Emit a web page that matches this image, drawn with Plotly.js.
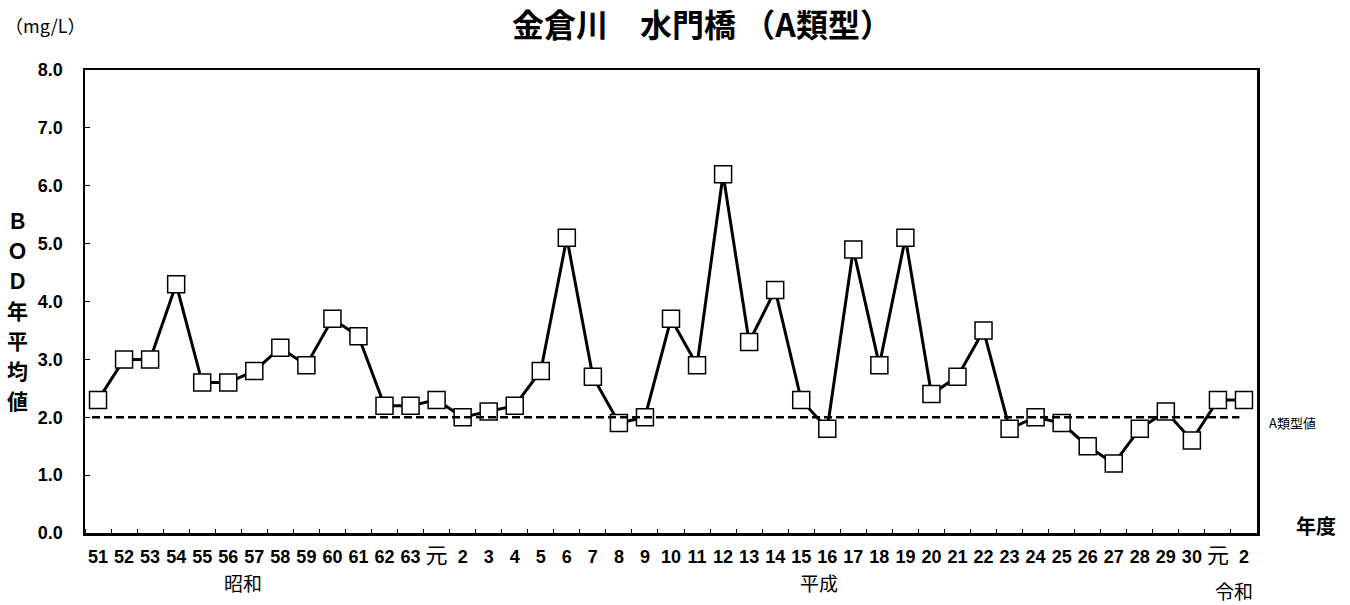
<!DOCTYPE html>
<html>
<head>
<meta charset="utf-8">
<script src="https://cdn.plot.ly/plotly-3.0.1.min.js"></script>
<style>html,body{margin:0;padding:0;background:#fff;}#chart{width:1350px;height:605px;}</style>
</head>
<body>
<div id="chart"></div>
<script>
// Fiscal year labels (Showa 51–63, Heisei 元–30, Reiwa 元–2)
var yearLabels = ["51","52","53","54","55","56","57","58","59","60","61","62","63",
  "元","2","3","4","5","6","7","8","9","10","11","12","13","14","15","16","17","18","19","20","21","22","23","24","25","26","27","28","29","30",
  "元","2"];
// BOD annual mean (mg/L)
var bodValues = [2.3,3.0,3.0,4.3,2.6,2.6,2.8,3.2,2.9,3.7,3.4,2.2,2.2,
  2.3,2.0,2.1,2.2,2.8,5.1,2.7,1.9,2.0,3.7,2.9,6.2,3.3,4.2,2.3,1.8,4.9,2.9,5.1,2.4,2.7,3.5,1.8,2.0,1.9,1.5,1.2,1.8,2.1,1.6,
  2.3,2.3];
var standardValue = 2.0; // A類型 standard
var eraLabels = ["昭和","平成","令和"];
var yTitleChars = ["Ｂ","Ｏ","Ｄ","年","平","均","値"];
var yTicks = [0,1,2,3,4,5,6,7,8];

var idx = yearLabels.map(function(_, i){ return i; });
var tickText = yearLabels.map(function(s){
  return s === "元" ? '<span style="font-family:Noto Sans CJK JP;font-size:22px;font-weight:normal">元</span>' : s;
});

var trace = {
  x: idx, y: bodValues, type: 'scatter', mode: 'lines+markers',
  line: {color: '#000', width: 3},
  marker: {symbol: 'square', size: 17, color: '#fff', line: {color: '#000', width: 1.5}},
  hoverinfo: 'skip', showlegend: false
};

var PL = 85, PB = 533, PW = 1172, PH = 463;
function px(x){ return (x - PL) / PW; }
function py(y){ return (PB - y) / PH; }

var annotations = [
  {text: '（mg/L）', xref: 'paper', yref: 'paper', x: px(45), y: py(25), xanchor: 'center', yanchor: 'middle', showarrow: false,
    font: {family: 'Noto Sans CJK JP', size: 18}},
  {text: '年度', xref: 'paper', yref: 'paper', x: px(1316), y: py(525), xanchor: 'center', yanchor: 'middle', showarrow: false,
    font: {family: 'Noto Sans CJK JP', size: 20, weight: 'bold'}},
  {text: 'A類型値', xref: 'paper', yref: 'y', x: px(1267), y: standardValue, yshift: -5, xanchor: 'left', yanchor: 'middle', showarrow: false,
    font: {family: 'Noto Sans CJK JP', size: 13}},
  {text: eraLabels[0], xref: 'x', yref: 'paper', x: 5.57, y: py(582), xanchor: 'center', yanchor: 'middle', showarrow: false,
    font: {family: 'Noto Sans CJK JP', size: 19}},
  {text: eraLabels[1], xref: 'x', yref: 'paper', x: 27.7, y: py(582), xanchor: 'center', yanchor: 'middle', showarrow: false,
    font: {family: 'Noto Sans CJK JP', size: 19}},
  {text: eraLabels[2], xref: 'x', yref: 'paper', x: 43.6, y: py(590), xanchor: 'center', yanchor: 'middle', showarrow: false,
    font: {family: 'Noto Sans CJK JP', size: 19}}
];
var yTitlePos = [220, 250, 280, 310, 340, 370, 400];
yTitleChars.forEach(function(c, i){
  annotations.push({text: c, xref: 'paper', yref: 'paper', x: px(17), y: py(yTitlePos[i]), xanchor: 'center', yanchor: 'middle',
    showarrow: false, font: {family: 'Noto Sans CJK JP', size: 21, weight: 'bold'}});
});

var layout = {
  width: 1350, height: 605,
  margin: {l: PL, r: 1350 - PL - PW, t: 70, b: 605 - PB},
  paper_bgcolor: '#fff', plot_bgcolor: '#fff',
  font: {family: 'Liberation Sans, Arial, sans-serif', color: '#000'},
  title: {text: '金倉川　水門橋 （A類型）', x: 0.52, xref: 'container', xanchor: 'center', y: 0.957, yref: 'container', yanchor: 'middle',
    font: {family: 'Noto Sans CJK JP', size: 32, weight: 'bold', color: '#000'}},
  xaxis: {
    range: [-0.5, yearLabels.length - 0.5], tickmode: 'array', tickvals: idx, ticktext: tickText,
    ticks: '', showgrid: false, zeroline: false,
    showline: true, linecolor: '#000', linewidth: 2.5, mirror: true,
    tickfont: {family: 'Liberation Sans Narrow, Arial Narrow, Liberation Sans', size: 18, weight: 'bold', color: '#000'},
    tickangle: 0, ticklabelstandoff: 6,
    minor: {tick0: 0.5, dtick: 1, ticks: 'inside', ticklen: 4, tickwidth: 1, tickcolor: '#000', showgrid: false}
  },
  yaxis: {
    range: [0, 8], tickmode: 'array', tickvals: yTicks, tickformat: '.1f',
    ticks: 'inside', ticklen: 5, tickwidth: 1, tickcolor: '#000',
    showgrid: false, zeroline: false,
    showline: true, linecolor: '#000', linewidth: 2.5, mirror: true,
    tickfont: {family: 'Liberation Sans, Arial', size: 18, weight: 'bold', color: '#000'},
    ticklabelstandoff: 16
  },
  shapes: [{type: 'line', xref: 'paper', yref: 'y', x0: 0.006, x1: 0.985, y0: standardValue, y1: standardValue,
    line: {color: '#000', width: 2.5, dash: '8px,4px'}}],
  annotations: annotations
};

Plotly.newPlot('chart', [trace], layout, {staticPlot: true, displayModeBar: false});
</script>
</body>
</html>
